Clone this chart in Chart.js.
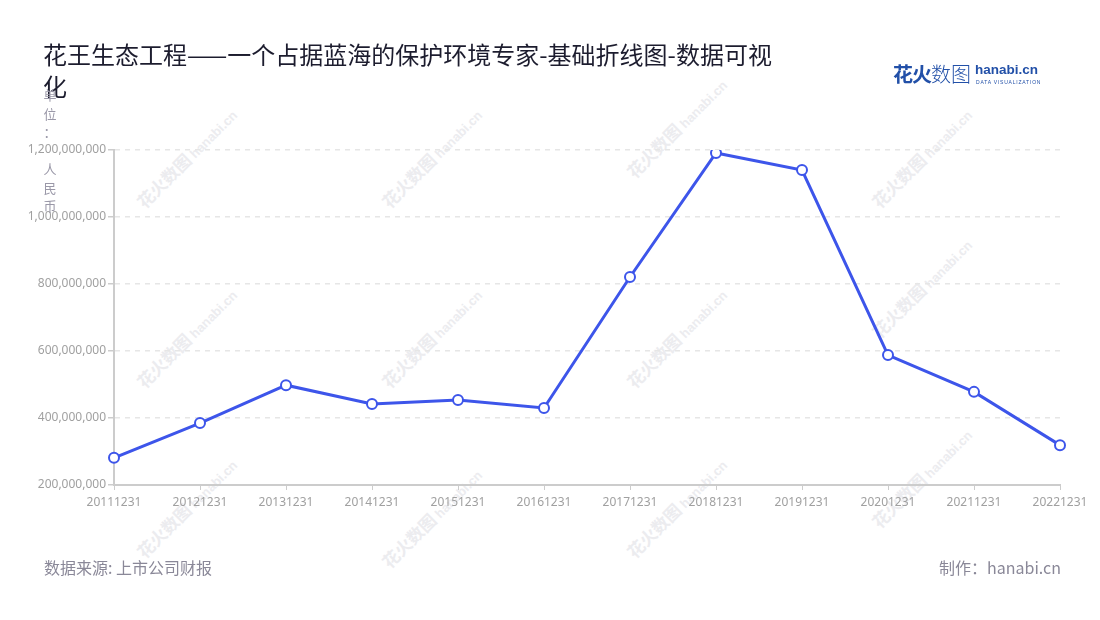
<!DOCTYPE html>
<html>
<head>
<meta charset="utf-8">
<script src="https://cdn.jsdelivr.net/npm/chart.js@4/dist/chart.umd.min.js"></script>
<style>
  body { margin: 0; background: #fff; font-family: "Noto Sans CJK SC", "Noto Sans", sans-serif; }
  #wrap { position: relative; width: 1100px; height: 620px; overflow: hidden; }
  #chart { position: absolute; left: 0; top: 0; }
  .title { position: absolute; left: 43px; top: 38px; font-size: 24px; line-height: 32px; color: #1c1c2e; }
  .unit { position: absolute; left: 42px; top: 86px; width: 16px; font-size: 13px; color: #9a98a8; text-align: center; }
  .unit div { height: 18.5px; line-height: 18.5px; }
  .foot { position: absolute; top: 555px; font-size: 16px; color: #8a8898; }
  .logo { position: absolute; left: 893px; top: 59px; color: #2250a8; }
  .wm { position: absolute; color: #ececef; transform: rotate(-45deg); white-space: nowrap; }
  .wm b { font-size: 17px; }
  .wm span { font-size: 13px; font-weight: bold; font-family: 'Liberation Sans'; }
</style>
</head>
<body>
<div id="wrap">
  <canvas id="chart" width="1100" height="620"></canvas>
  <div class="title">花王生态工程——一个占据蓝海的保护环境专家-基础折线图-数据可视<br>化</div>
  <div class="unit"><div>单</div><div>位</div><div>：</div><div></div><div>人</div><div>民</div><div>币</div></div>
  <div class="logo">
    <span style="font-size:20px;font-weight:bold;letter-spacing:-1px;">花火</span><span style="font-size:20px;font-weight:300;">数图</span>
    <span style="position:absolute;left:82px;top:3px;font-size:13.5px;font-weight:bold;font-family:'Liberation Sans';">hanabi.cn</span>
    <span style="position:absolute;left:83px;top:20px;font-size:5px;letter-spacing:0.8px;white-space:nowrap;font-family:'Liberation Sans';">DATA VISUALIZATION</span>
  </div>
  <div class="foot" style="left:44px;">数据来源: 上市公司财报</div>
  <div class="foot" style="right:39px;">制作：hanabi.cn</div>
</div>
<script>
// 花王生态工程 营业收入（单位：人民币）
const periods = ['20111231','20121231','20131231','20141231','20151231','20161231',
                 '20171231','20181231','20191231','20201231','20211231','20221231'];
const revenue = [281000000, 385000000, 498000000, 442000000, 454000000, 430000000,
                 821000000, 1191000000, 1140000000, 588000000, 478000000, 319000000];
const yTicks = [200000000, 400000000, 600000000, 800000000, 1000000000, 1200000000];

// faint watermarks
const wrap = document.getElementById('wrap');
[[120, 145], [365, 145], [610, 115], [855, 145],
 [120, 325], [365, 325], [610, 325], [855, 275],
 [120, 495], [365, 505], [610, 495], [855, 465]].forEach(function (p) {
    const d = document.createElement('div');
    d.className = 'wm';
    d.style.left = p[0] + 'px';
    d.style.top = p[1] + 'px';
    d.innerHTML = '<b>花火数图</b> <span>hanabi.cn</span>';
    wrap.insertBefore(d, wrap.firstChild);
});

const ctx = document.getElementById('chart').getContext('2d');
new Chart(ctx, {
    type: 'line',
    data: {
        labels: periods,
        datasets: [{
            data: revenue,
            borderColor: '#3d55ea',
            borderWidth: 3,
            backgroundColor: '#ffffff',
            pointBackgroundColor: '#ffffff',
            pointBorderColor: '#3d55ea',
            pointBorderWidth: 2,
            pointRadius: 5,
            tension: 0
        }]
    },
    options: {
        responsive: false,
        animation: false,
        layout: { padding: { top: 150, right: 40, bottom: 105, left: 0 } },
        plugins: { legend: { display: false }, tooltip: { enabled: false } },
        scales: {
            x: {
                grid: { drawOnChartArea: false, color: '#cccccc', tickLength: 5 },
                border: { color: '#cccccc', width: 2 },
                ticks: { color: '#a0a0a0', font: { size: 12, family: 'Noto Sans' }, maxRotation: 0, padding: 5 },
                afterFit: function (s) { s.height = 30; }
            },
            y: {
                min: 200000000,
                max: 1200000000,
                afterBuildTicks: function (s) { s.ticks = yTicks.map(v => ({ value: v })); },
                grid: { color: '#e6e6e6', lineWidth: 1.5, tickColor: '#cccccc', tickLength: 6, tickBorderDash: [] },
                border: { color: '#cccccc', width: 2, dash: [5, 5] },
                ticks: {
                    color: '#a0a0a0', font: { size: 12, family: 'Noto Sans' }, padding: 2,
                    callback: v => v.toLocaleString('en-US')
                },
                afterFit: function (s) { s.width = 114; }
            }
        }
    }
});
</script>
</body>
</html>
